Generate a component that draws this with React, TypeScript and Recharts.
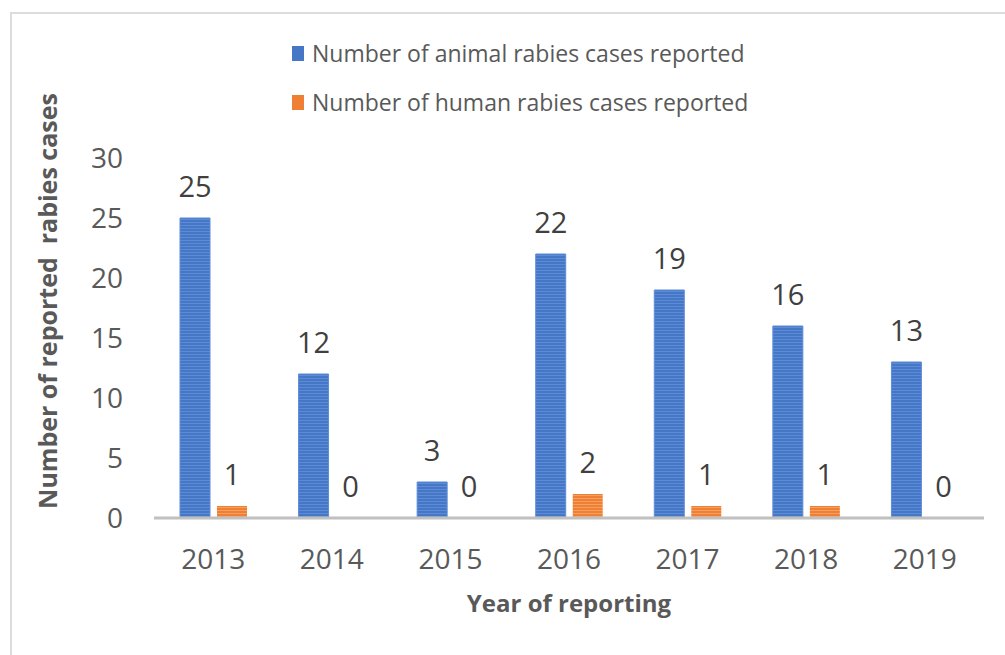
import { Bar, BarChart, LabelList, XAxis, YAxis } from "recharts";

const years = ["2013", "2014", "2015", "2016", "2017", "2018", "2019"];
const animalCases = [25, 12, 3, 22, 19, 16, 13];
const humanCases = [1, 0, 0, 2, 1, 1, 0];
const yTicks = [0, 5, 10, 15, 20, 25, 30];

const seriesNames = [
  "Number of animal rabies cases reported",
  "Number of human rabies cases reported",
];
const seriesColors = ["#4677c7", "#ef7f35"];

const data = years.map((year, i) => ({
  year,
  animal: animalCases[i],
  human: humanCases[i],
}));

const FONT = "'Open Sans', 'DejaVu Sans', sans-serif";
const TEXT = "#595959";

// keeps zero bars in the layout so their "0" labels still get drawn
const tinyForZero = (v: any) => (v === 0 ? 0.01 : 0);

function YTitle({ viewBox }: any) {
  const x = viewBox.x + 57;
  const y = viewBox.y + viewBox.height / 2 - 37;
  return (
    <text x={x} y={y} transform={`rotate(-90, ${x}, ${y})`} textAnchor="middle" fontFamily={FONT} fontSize={25} fontWeight={700} fill={TEXT} style={{ whiteSpace: "pre" }}>
      Number of reported  rabies cases
    </text>
  );
}

function XTitle({ viewBox }: any) {
  return (
    <text x={viewBox.x + viewBox.width / 2} y={viewBox.y + 94} textAnchor="middle" fontFamily={FONT} fontSize={24} fontWeight={700} fill={TEXT}>
      Year of reporting
    </text>
  );
}

export default function App() {
  return (
    <div style={{ position: "absolute", left: 0, top: 0, width: 1005, height: 655, overflow: "hidden", background: "#fff" }}>
      <div style={{ position: "absolute", left: 10, top: 12, width: 1100, height: 800, border: "2px solid #dcdcdc" }} />
      <div style={{ position: "absolute", left: 292, top: 38, fontFamily: FONT, fontSize: 23, color: TEXT }}>
        {seriesNames.map((name, i) => (
          <div key={name} style={{ display: "flex", alignItems: "center", height: 30, marginBottom: i === 0 ? 19 : 0 }}>
            <span style={{ display: "inline-block", width: 12, height: 15, background: seriesColors[i], marginRight: 8 }} />
            <span>{name}</span>
          </div>
        ))}
      </div>
      <BarChart
        width={1005}
        height={655}
        data={data}
        margin={{ top: 158, right: 21, bottom: 107, left: 0 }}
        barSize={30}
        barGap={7}
        style={{ position: "absolute", left: 0, top: 0 }}
      >
        <defs>
          <pattern id="bluePat" width="4" height="3" patternUnits="userSpaceOnUse">
            <rect width="4" height="3" fill="#4677c7" />
            <rect width="4" height="1" fill="#5d8cd6" />
          </pattern>
          <pattern id="orangePat" width="4" height="3" patternUnits="userSpaceOnUse">
            <rect width="4" height="3" fill="#ef7f35" />
            <rect width="4" height="1" fill="#f6a060" />
          </pattern>
        </defs>
        <XAxis
          dataKey="year"
          height={30}
          axisLine={{ stroke: "#c0c0c0", strokeWidth: 3 }}
          tickLine={false}
          tickMargin={25}
          tick={{ fill: TEXT, fontSize: 28, fontFamily: FONT }}
          label={<XTitle />}
        />
        <YAxis
          width={154}
          domain={[0, 30]}
          ticks={yTicks}
          axisLine={false}
          tickLine={false}
          tickMargin={25}
          tick={{ fill: TEXT, fontSize: 28, fontFamily: FONT }}
          label={<YTitle />}
        />
        <Bar dataKey="animal" name={seriesNames[0]} fill="url(#bluePat)" stroke="#5d8cd6" strokeWidth={1} minPointSize={tinyForZero} isAnimationActive={false}>
          <LabelList dataKey="animal" position="top" offset={21} fill="#404040" fontSize={29} fontFamily={FONT} />
        </Bar>
        <Bar dataKey="human" name={seriesNames[1]} fill="url(#orangePat)" minPointSize={tinyForZero} isAnimationActive={false}>
          <LabelList dataKey="human" position="top" offset={21} fill="#404040" fontSize={29} fontFamily={FONT} />
        </Bar>
      </BarChart>
    </div>
  );
}
